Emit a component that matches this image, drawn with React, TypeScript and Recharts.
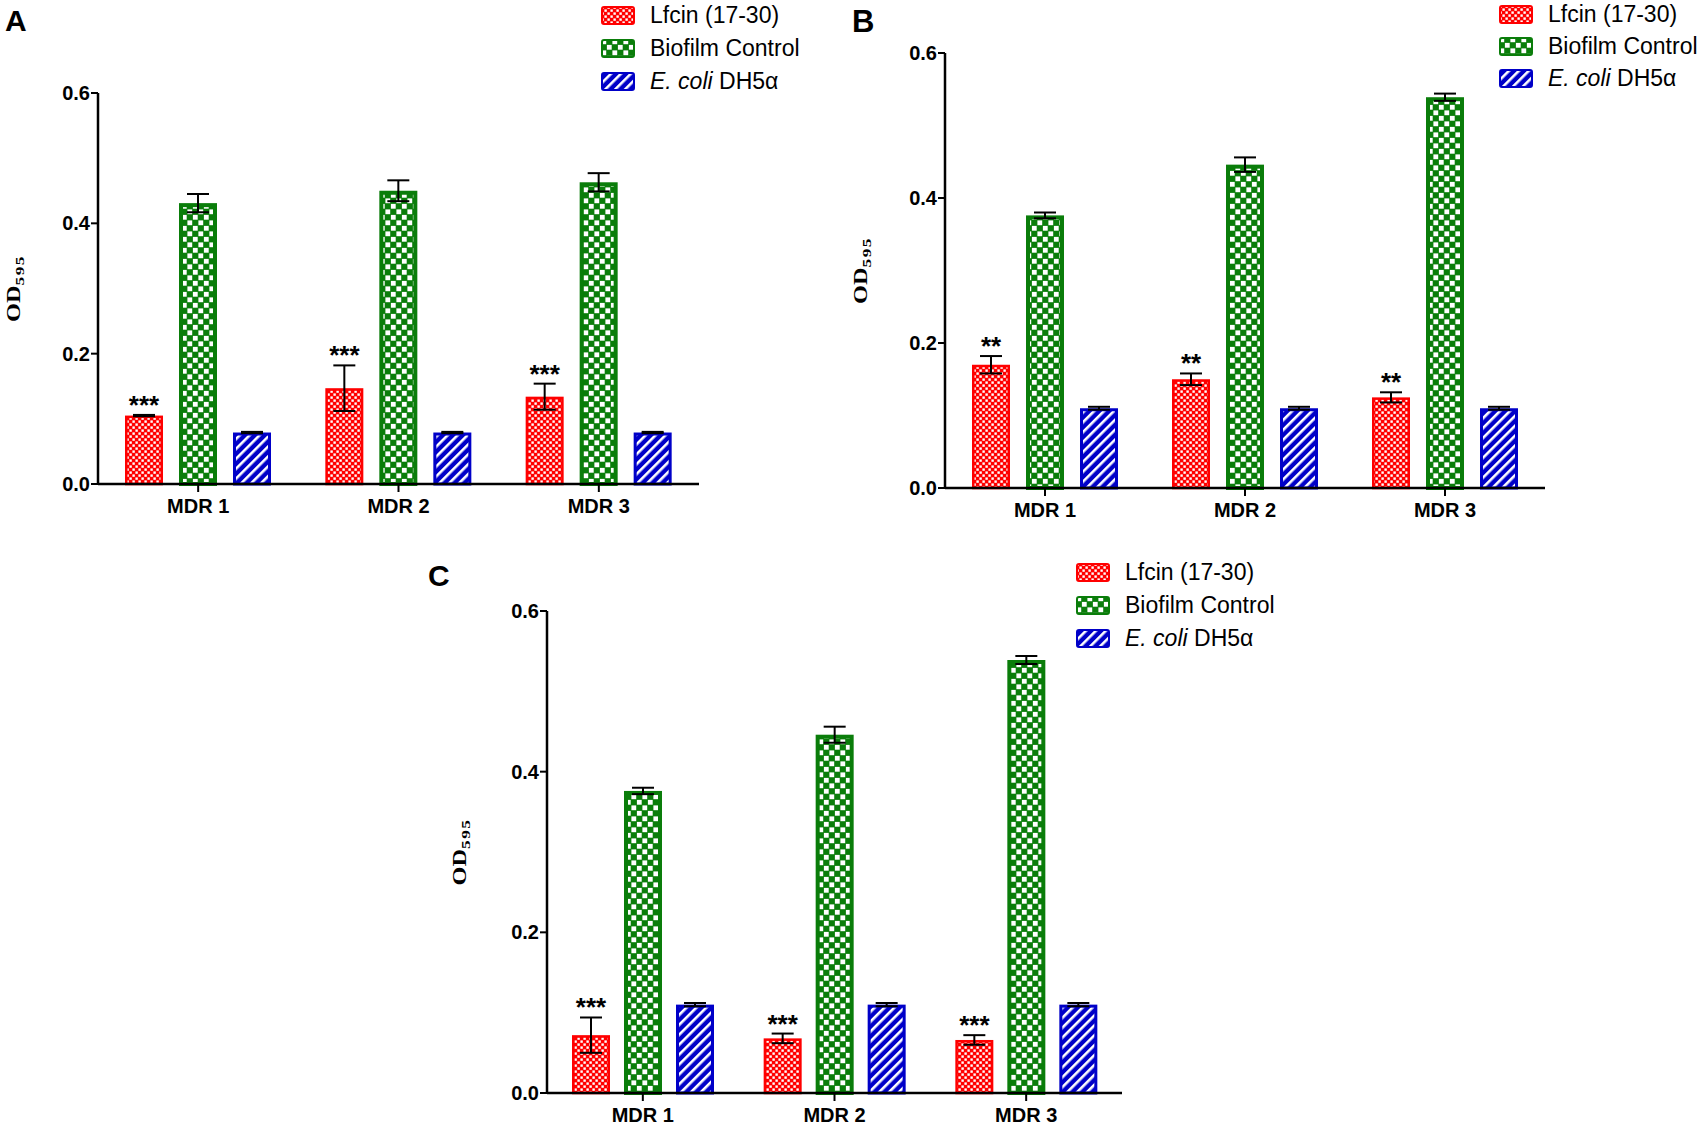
import React from 'react'
import { BarChart, Bar, XAxis, YAxis, ErrorBar, Legend, LabelList } from 'recharts'

const CATEGORIES = ['MDR 1', 'MDR 2', 'MDR 3']
const Y_TICKS = [0, 0.2, 0.4, 0.6]

// panel A
const A_LFCIN = [0.105, 0.147, 0.134]
const A_LFCIN_ERR = [0.001, 0.035, 0.02]
const A_BIOFILM = [0.431, 0.45, 0.463]
const A_BIOFILM_ERR = [0.014, 0.016, 0.014]
const A_ECOLI = [0.079, 0.079, 0.079]
const A_ECOLI_ERR = [0.001, 0.001, 0.001]

// panel B
const B_LFCIN = [0.17, 0.15, 0.125]
const B_LFCIN_ERR = [0.012, 0.008, 0.007]
const B_BIOFILM = [0.376, 0.446, 0.539]
const B_BIOFILM_ERR = [0.004, 0.01, 0.005]
const B_ECOLI = [0.11, 0.11, 0.11]
const B_ECOLI_ERR = [0.002, 0.002, 0.002]

// panel C
const C_LFCIN = [0.072, 0.068, 0.066]
const C_LFCIN_ERR = [0.022, 0.006, 0.006]
const C_BIOFILM = [0.376, 0.446, 0.539]
const C_BIOFILM_ERR = [0.004, 0.01, 0.005]
const C_ECOLI = [0.11, 0.11, 0.11]
const C_ECOLI_ERR = [0.002, 0.002, 0.002]

const RED = '#ff0000'
const GREEN = '#0a7d0a'
const BLUE = '#0000c8'
const FONT = '"Liberation Sans", Arial, sans-serif'
const SERIF = '"Liberation Serif", "Times New Roman", serif'

const build = (lf: number[], lfErr: number[], bf: number[], bfErr: number[], ec: number[], ecErr: number[]) =>
  CATEGORIES.map((name, i) => ({
    name,
    lf: lf[i],
    lfErr: lfErr[i],
    bf: bf[i],
    bfErr: bfErr[i],
    ec: ec[i],
    ecErr: ecErr[i],
  }))

function Patterns({ id }: { id: string }) {
  return (
    <defs>
      <pattern id={`${id}-lf`} width={6} height={6} patternUnits="userSpaceOnUse">
        <rect width={6} height={6} fill={RED} />
        <rect x={0.4} y={0.4} width={2.4} height={2.4} fill="#fff" />
        <rect x={3.4} y={3.4} width={2.4} height={2.4} fill="#fff" />
      </pattern>
      <pattern id={`${id}-bf`} width={11} height={11} patternUnits="userSpaceOnUse">
        <rect width={11} height={11} fill={GREEN} />
        <rect x={0.4} y={0.4} width={4.8} height={4.8} fill="#fff" />
        <rect x={5.9} y={5.9} width={4.8} height={4.8} fill="#fff" />
      </pattern>
      <pattern id={`${id}-ec`} width={7} height={7} patternUnits="userSpaceOnUse" patternTransform="rotate(45)">
        <rect width={7} height={7} fill={BLUE} />
        <rect x={0} y={0} width={2.6} height={7} fill="#fff" />
      </pattern>
    </defs>
  )
}

function PatternBar(props: any) {
  const { x, y, width, height, fillId, stroke, sw } = props
  if (!height || height <= 0) return null
  return (
    <rect
      x={x + sw / 2}
      y={y + sw / 2}
      width={width - sw}
      height={height - sw / 2}
      fill={`url(#${fillId})`}
      stroke={stroke}
      strokeWidth={sw}
    />
  )
}

function OdLabel(props: any) {
  const { viewBox, dx } = props
  const cx = viewBox.x + dx
  const cy = viewBox.y + viewBox.height / 2
  return (
    <g transform={`translate(${cx}, ${cy}) rotate(-90) scale(1.35, 1)`}>
      <text x={0} y={0} textAnchor="middle" dy="0.35em" fontFamily={SERIF} fontWeight="bold" fontSize={18} fill="#000">
        OD
        <tspan fontSize={13} dy={4} letterSpacing={1}>595</tspan>
      </text>
    </g>
  )
}

const SERIES = [
  { key: 'lf', label: <>Lfcin (17-30)</>, stroke: RED },
  { key: 'bf', label: <>Biofilm Control</>, stroke: GREEN },
  { key: 'ec', label: <><i>E. coli</i> DH5α</>, stroke: BLUE },
]

function LegendBox({ pid, rowH, textDx }: { pid: string; rowH: number; textDx: number }) {
  return (
    <div style={{ fontFamily: FONT, fontSize: 23, color: '#000' }}>
      {SERIES.map((s) => (
        <div key={s.key} style={{ height: rowH, display: 'flex', alignItems: 'center', whiteSpace: 'nowrap' }}>
          <svg width={34} height={19} style={{ flex: 'none' }}>
            <rect x={1} y={1} width={32} height={17} rx={2} fill={`url(#${pid}-${s.key})`} stroke={s.stroke} strokeWidth={2} />
          </svg>
          <span style={{ marginLeft: textDx - 34 }}>{s.label}</span>
        </div>
      ))}
    </div>
  )
}

interface PanelProps {
  id: string
  letter: string
  left: number
  top: number
  width: number
  height: number
  margin: { top: number; right: number; bottom: number; left: number }
  yAxisWidth: number
  barGap: number
  data: ReturnType<typeof build>
  stars: string
  labelDx: number
  legendLeft: number
  legendTop: number
  legendRow: number
  letterLeft: number
  letterTop: number
  letterSize: number
}

function Panel(p: PanelProps) {
  const starLabel = (lp: any) => {
    const vb = lp.viewBox ?? lp
    const { x, y, width, height } = vb
    const row = p.data[lp.index]
    if (!row) return null
    const top = y - (row.lfErr * height) / row.lf
    return (
      <text x={x + width / 2} y={top - 1} textAnchor="middle" fontFamily={FONT} fontWeight="bold" fontSize={26} fill="#000">
        {p.stars}
      </text>
    )
  }
  const tickStyle = { fill: '#000', fontSize: 20, fontWeight: 'bold', fontFamily: FONT }
  return (
    <>
      <div
        style={{
          position: 'absolute',
          left: p.letterLeft,
          top: p.letterTop,
          fontFamily: FONT,
          fontWeight: 'bold',
          fontSize: p.letterSize,
          lineHeight: 1,
        }}
      >
        {p.letter}
      </div>
      <div style={{ position: 'absolute', left: p.left, top: p.top }}>
        <BarChart width={p.width} height={p.height} data={p.data} margin={p.margin} barSize={38} barGap={p.barGap}>
          <Patterns id={p.id} />
          <XAxis
            dataKey="name"
            interval={0}
            height={34}
            tickSize={8}
            tickMargin={7}
            tick={tickStyle}
            axisLine={{ stroke: '#000', strokeWidth: 2.5 }}
            tickLine={{ stroke: '#000', strokeWidth: 2 }}
          />
          <YAxis
            type="number"
            domain={[0, 0.6]}
            ticks={Y_TICKS}
            width={p.yAxisWidth}
            tickFormatter={(v: number) => v.toFixed(1)}
            tickSize={7}
            tickMargin={1}
            tick={tickStyle}
            axisLine={{ stroke: '#000', strokeWidth: 2.5 }}
            tickLine={{ stroke: '#000', strokeWidth: 2 }}
            label={<OdLabel dx={p.labelDx} />}
          />
          <Legend
            layout="vertical"
            align="center"
            verticalAlign="middle"
            wrapperStyle={{ left: p.legendLeft, top: p.legendTop, width: 'auto' }}
            content={() => <LegendBox pid={p.id} rowH={p.legendRow} textDx={49} />}
          />
          <Bar
            dataKey="lf"
            name="Lfcin (17-30)"
            isAnimationActive={false}
            shape={(bp: any) => <PatternBar {...bp} fillId={`${p.id}-lf`} stroke={RED} sw={2.5} />}
          >
            <ErrorBar dataKey="lfErr" width={11} stroke="#000" strokeWidth={2} isAnimationActive={false} />
            <LabelList dataKey="lf" content={starLabel} />
          </Bar>
          <Bar
            dataKey="bf"
            name="Biofilm Control"
            isAnimationActive={false}
            shape={(bp: any) => <PatternBar {...bp} fillId={`${p.id}-bf`} stroke={GREEN} sw={4} />}
          >
            <ErrorBar dataKey="bfErr" width={11} stroke="#000" strokeWidth={2} isAnimationActive={false} />
          </Bar>
          <Bar
            dataKey="ec"
            name="E. coli DH5α"
            isAnimationActive={false}
            shape={(bp: any) => <PatternBar {...bp} fillId={`${p.id}-ec`} stroke={BLUE} sw={3} />}
          >
            <ErrorBar dataKey="ecErr" width={11} stroke="#000" strokeWidth={2} isAnimationActive={false} />
          </Bar>
        </BarChart>
      </div>
    </>
  )
}

export default function App() {
  return (
    <div style={{ position: 'absolute', left: 0, top: 0, width: 1700, height: 1127, background: '#fff', overflow: 'hidden' }}>
      <Panel
        id="pa"
        letter="A"
        left={0}
        top={0}
        width={720}
        height={530}
        margin={{ top: 93, right: 21, bottom: 12, left: 0 }}
        yAxisWidth={98}
        barGap={16}
        data={build(A_LFCIN, A_LFCIN_ERR, A_BIOFILM, A_BIOFILM_ERR, A_ECOLI, A_ECOLI_ERR)}
        stars="***"
        labelDx={14}
        legendLeft={601}
        legendTop={-1}
        legendRow={33}
        letterLeft={5}
        letterTop={6}
        letterSize={30}
      />
      <Panel
        id="pb"
        letter="B"
        left={850}
        top={0}
        width={700}
        height={534}
        margin={{ top: 53, right: 5, bottom: 12, left: 0 }}
        yAxisWidth={95}
        barGap={16}
        data={build(B_LFCIN, B_LFCIN_ERR, B_BIOFILM, B_BIOFILM_ERR, B_ECOLI, B_ECOLI_ERR)}
        stars="**"
        labelDx={11}
        legendLeft={649}
        legendTop={-2}
        legendRow={32}
        letterLeft={852}
        letterTop={6}
        letterSize={31}
      />
      <Panel
        id="pc"
        letter="C"
        left={400}
        top={530}
        width={730}
        height={597}
        margin={{ top: 81, right: 8, bottom: 0, left: 0 }}
        yAxisWidth={147}
        barGap={14}
        data={build(C_LFCIN, C_LFCIN_ERR, C_BIOFILM, C_BIOFILM_ERR, C_ECOLI, C_ECOLI_ERR)}
        stars="***"
        labelDx={60}
        legendLeft={676}
        legendTop={26}
        legendRow={33}
        letterLeft={428}
        letterTop={561}
        letterSize={30}
      />
    </div>
  )
}
